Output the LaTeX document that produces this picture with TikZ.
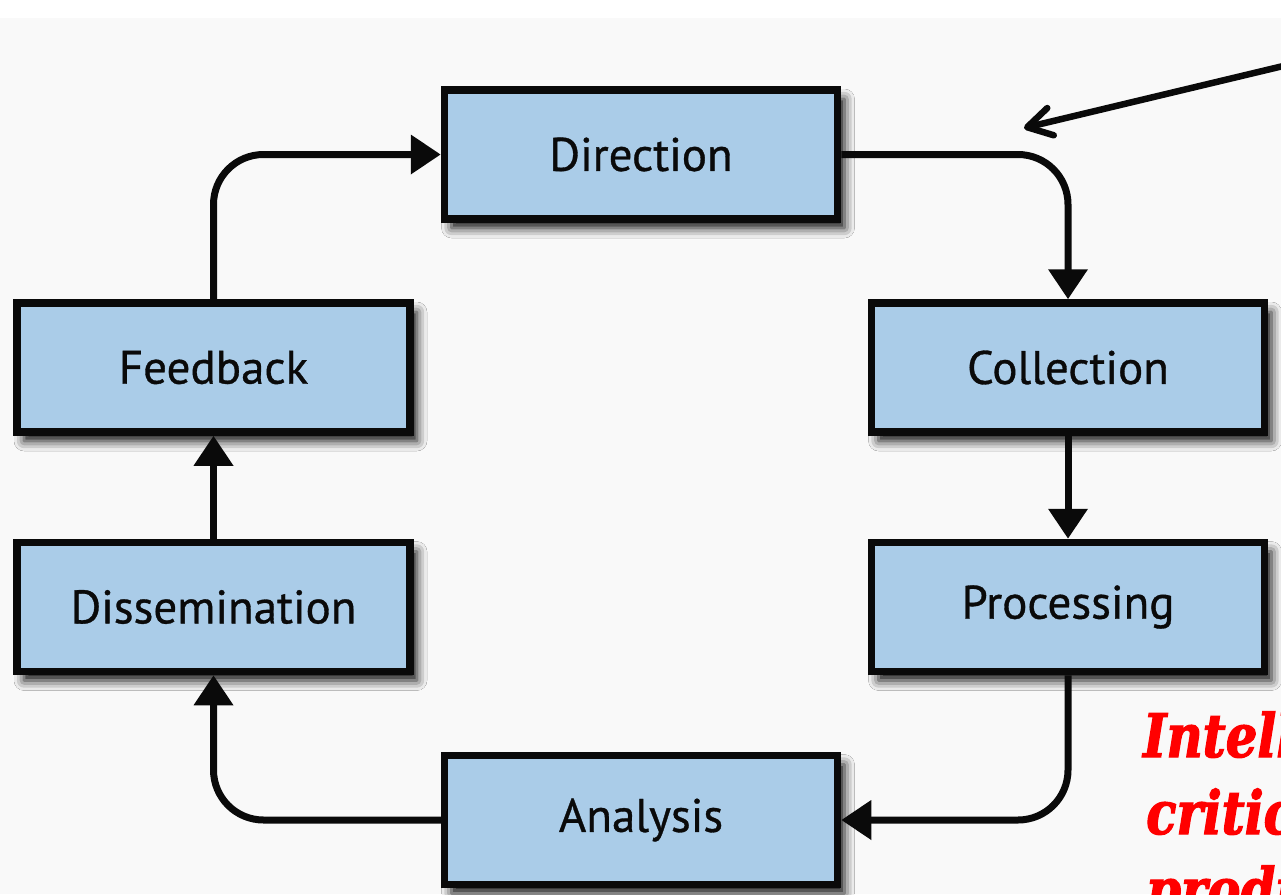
\documentclass[tikz,border=0pt]{standalone}
\usepackage{fontspec}
\setmainfont{PT Sans}
\newfontfamily\labelfont[FakeBold=0.7]{PT Sans}
\newfontfamily\redfont[FakeStretch=0.83,FakeBold=2]{DejaVu Serif}
\usetikzlibrary{arrows.meta,shadows.blur}
\definecolor{boxfill}{RGB}{170,204,232}
\definecolor{bggray}{RGB}{249,249,249}
\definecolor{inkblack}{RGB}{10,10,10}
\tikzset{
  stagebox/.style={draw=inkblack, line width=7.5pt, fill=boxfill,
    minimum width=393pt, minimum height=129pt, inner sep=0pt,
    font=\labelfont\fontsize{47}{50}\selectfont, text=inkblack,
    blur shadow={shadow xshift=7pt, shadow yshift=-9pt, shadow blur radius=10pt, shadow opacity=95}},
  flowline/.style={draw=inkblack, line width=7pt, rounded corners=50pt,
    -{Triangle[length=30pt, width=38pt]}},
  pointer/.style={draw=inkblack, line width=6.5pt, line cap=round,
    -{Straight Barb[length=24pt, width=28pt, line cap=round, line join=round]}},
  redtext/.style={text=red, anchor=base west, inner sep=0pt,
    font=\redfont\bfseries\itshape\fontsize{60}{70}\selectfont}
}
\begin{document}
\begin{tikzpicture}[x=1pt, y=-1pt]
\useasboundingbox (0,0) rectangle (1281,894);
\fill[white] (0,0) rectangle (1281,894);
\fill[bggray] (0,18) rectangle (1281,894);
\begin{scope}
\clip (0,0) rectangle (1281,894);
\node[stagebox] (dir) at (641,154.5) {Direction};
\node[stagebox] (fb) at (213.5,367.5) {Feedback};
\node[stagebox] (col) at (1068,367.5) {Collection};
\node[stagebox] (dis) at (213.5,607) {Dissemination};
\node[stagebox] (proc) at (1068,607) {Processing};
\node[stagebox] (ana) at (641,820) {Analysis};

\draw[flowline] (dir.east) -| (col.north);
\draw[flowline] (col.south) -- (proc.north);
\draw[flowline] (proc.south) |- (ana.east);
\draw[flowline] (ana.west) -| (dis.south);
\draw[flowline] (dis.north) -- (fb.south);
\draw[flowline] (fb.north) |- (dir.west);

\coordinate (pstart) at (1300,62);
\coordinate (ptip) at (1024,128);
\draw[pointer] (pstart) -- (ptip);

\node[redtext] (r1) at (1143,757) {Intelligence};
\node[redtext] (r2) at (1146,834) {critical};
\node[redtext] (r3) at (1146,911) {product};
\end{scope}
\end{tikzpicture}
\end{document}
